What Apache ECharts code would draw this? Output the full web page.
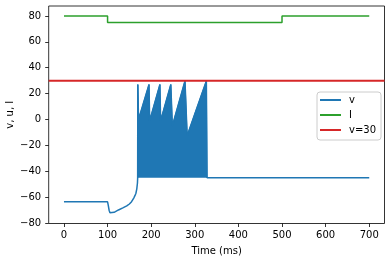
<!DOCTYPE html>
<html>
<head>
<meta charset="utf-8">
<script src="https://cdn.jsdelivr.net/npm/echarts@6/dist/echarts.min.js"></script>
<style>
html,body{margin:0;padding:0;background:#fff;}
#c{width:391px;height:262px;}
</style>
</head>
<body>
<div id="c"></div>
<script>
// ---- data ----
// membrane potential v before the burst (time ms, value)
const preT = [0, 100, 101.5, 103.5, 105.5, 108, 115, 125, 135, 144, 150, 155, 160, 163, 165, 167, 168.5];
const preV = [-63.5, -63.5, -66, -70, -72, -72.4, -71.6, -69.8, -68.2, -66.7, -65.2, -63.4, -60.6, -58.6, -56.9, -53.5, -49];
// corner points of the dense spiking burst (upper envelope), reset level -45
const spikeT = [169, 169.3, 170.6, 171, 195, 196.5, 220, 221.6, 245, 248.5, 277.5, 282.5, 326.5, 328];
const spikeV = [-45, 27, 27, 0, 27, -1, 27, -1, 27, -5, 29.8, -12.5, 29.8, -45];
// after the burst
const postT = [328, 700];
const postV = [-45, -45];
const resetLevel = -45;
// input I
const iT = [0, 100, 100, 500, 500, 700];
const iV = [80, 80, 75, 75, 80, 80];
// threshold line
const threshold = 30;
// axes
const xRange = [-35, 735];
const yRange = [-80.25, 87.65];
const xTicks = [0, 100, 200, 300, 400, 500, 600, 700];
const yTicks = [-80, -60, -40, -20, 0, 20, 40, 60, 80];

const zip = (a, b) => a.map((t, i) => [t, b[i]]);
const vData = zip(preT, preV).concat(zip(spikeT, spikeV), zip(postT, postV));
const spikeData = zip(spikeT, spikeV);

const FONT = 'DejaVu Sans';
const BLUE = '#1f77b4', GREEN = '#2ca02c', RED = '#d62728';

const chart = echarts.init(document.getElementById('c'), null, {renderer: 'canvas'});
chart.setOption({
  animation: false,
  backgroundColor: '#fff',
  textStyle: {fontFamily: FONT},
  grid: {left: 48.7, width: 335.8, top: 6, height: 217.5, show: true,
         outerBoundsMode: 'none', containLabel: false,
         borderColor: '#000', borderWidth: 0.8, backgroundColor: 'transparent'},
  legend: {
    orient: 'vertical', left: 317, top: 92,
    data: [
      {name: 'v', icon: 'rect', itemStyle: {color: BLUE}},
      {name: 'I', icon: 'rect', itemStyle: {color: GREEN}},
      {name: 'v=30', icon: 'rect', itemStyle: {color: RED}}
    ],
    itemWidth: 21, itemHeight: 2, itemGap: 5,
    padding: [3, 5, 5, 3],
    borderColor: '#cccccc', borderWidth: 1, borderRadius: 3,
    backgroundColor: 'rgba(255,255,255,0.8)',
    textStyle: {fontFamily: FONT, fontSize: 10, lineHeight: 10, color: '#000', padding: [0, 0, 0, 3]}
  },
  xAxis: {
    type: 'value', min: xRange[0], max: xRange[1],
    name: 'Time (ms)', nameLocation: 'middle', nameGap: 22.5, nameMoveOverlap: false,
    nameTextStyle: {fontFamily: FONT, fontSize: 10, color: '#000'},
    axisLine: {show: false, onZero: false},
    splitLine: {show: false},
    axisTick: {show: true, inside: false, length: 3.5, lineStyle: {color: '#000', width: 0.8}, customValues: xTicks},
    axisLabel: {fontFamily: FONT, fontSize: 10, color: '#000', margin: 7, customValues: xTicks}
  },
  yAxis: {
    type: 'value', min: yRange[0], max: yRange[1],
    name: 'v, u, I', nameLocation: 'middle', nameGap: 33, nameMoveOverlap: false,
    nameTextStyle: {fontFamily: FONT, fontSize: 10, color: '#000'},
    axisLine: {show: false, onZero: false},
    splitLine: {show: false},
    axisTick: {show: true, inside: false, length: 3.5, lineStyle: {color: '#000', width: 0.8}, customValues: yTicks},
    axisLabel: {fontFamily: FONT, fontSize: 10, color: '#000', margin: 7.5,
                customValues: yTicks,
                formatter: v => (v < 0 ? '\u2212' + Math.abs(v) : String(v))}
  },
  series: [
    {
      name: 'v', type: 'line', data: vData, symbol: 'none',
      lineStyle: {color: BLUE, width: 1.5}, itemStyle: {color: BLUE}, z: 2
    },
    {
      name: 'vburst', type: 'line', data: spikeData, symbol: 'none',
      lineStyle: {color: BLUE, width: 1}, itemStyle: {color: BLUE},
      areaStyle: {color: BLUE, opacity: 1, origin: resetLevel}, z: 2
    },
    {
      name: 'I', type: 'line', data: zip(iT, iV), symbol: 'none',
      lineStyle: {color: GREEN, width: 1.5}, itemStyle: {color: GREEN}, z: 3
    },
    {
      name: 'v=30', type: 'line', data: [[xRange[0], threshold], [xRange[1], threshold]], symbol: 'none',
      lineStyle: {color: RED, width: 2}, itemStyle: {color: RED}, z: 4
    }
  ]
});
</script>
</body>
</html>
